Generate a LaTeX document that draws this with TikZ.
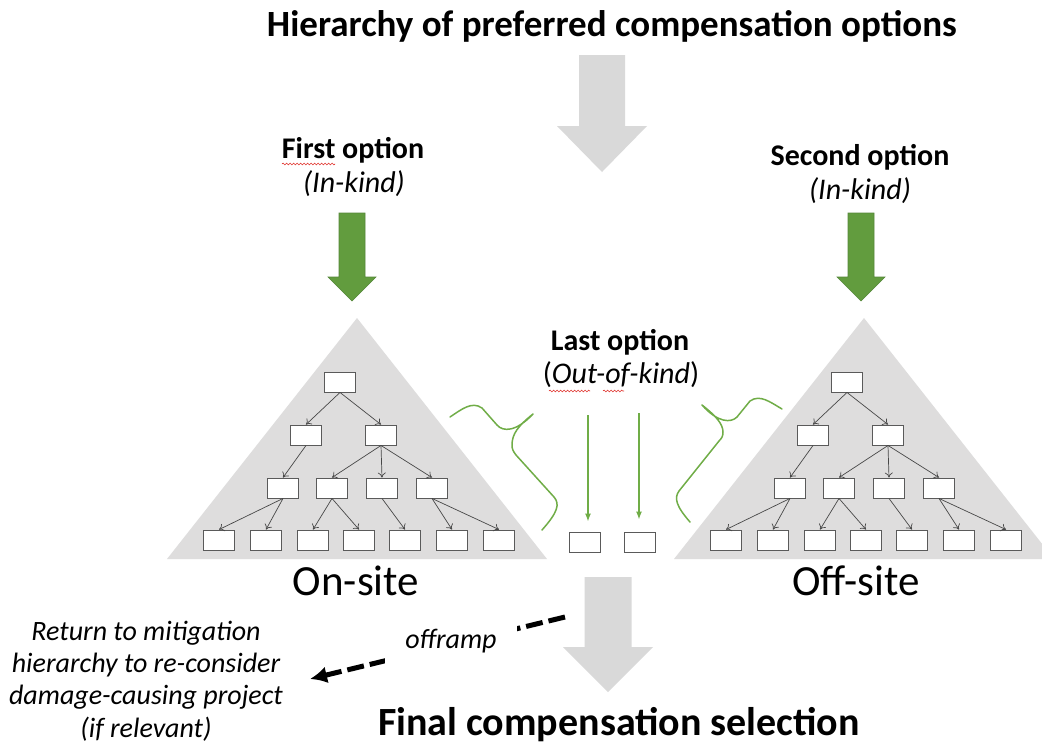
\documentclass[tikz,border=0pt]{standalone}
\usepackage{fontspec}
\setmainfont{Carlito}
\usetikzlibrary{arrows.meta,decorations.pathmorphing}

\definecolor{paleGray}{HTML}{D9D9D9}
\definecolor{triGray}{HTML}{DEDDDD}
\definecolor{leafGreen}{HTML}{629C3E}
\definecolor{leafEdge}{HTML}{55873A}
\definecolor{braceGreen}{HTML}{70AD47}
\definecolor{boxEdge}{HTML}{5A5A5A}
\definecolor{edgeGray}{HTML}{474747}
\definecolor{spellRed}{HTML}{E0302A}

\tikzset{
  leaf/.style={draw=boxEdge, fill=white, line width=0.9pt,
    minimum width=31pt, minimum height=20pt, inner sep=0pt},
  treeedge/.style={draw=edgeGray, line width=0.7pt, -{To[length=5pt,width=8pt]}},
  brace/.style={draw=braceGreen, line width=1.5pt, line join=round, line cap=round},
  thingreen/.style={draw=braceGreen, line width=1.4pt, -{Latex[length=8pt,width=6pt]}},
  label/.style={inner sep=0pt, anchor=base},
  titletext/.style={label, font=\fontsize{37}{44}\selectfont\bfseries},
  opttext/.style={label, font=\fontsize{30}{36}\selectfont\bfseries},
  kindtext/.style={label, font=\fontsize{30}{36}\selectfont},
  sitetext/.style={label, font=\fontsize{43}{50}\selectfont},
  finaltext/.style={label, font=\fontsize{40}{48}\selectfont\bfseries},
  notetext/.style={label, align=center, font=\fontsize{28}{32.3}\selectfont\itshape},
  offramp/.style={draw=black, line width=5pt, dash pattern=on 17pt off 6pt,
    -{Latex[length=17pt,width=17pt]}},
  squiggle/.style={draw=spellRed, line width=0.6pt, decorate,
    decoration={snake, segment length=3.5pt, amplitude=0.9pt}}
}

% block arrow pointing down: style, centre x, top y, shaft half width,
% y where the head starts, head half width, tip y
\newcommand{\blockarrow}[7]{%
  \path[#1] ({#2-#4},#3) -- ({#2+#4},#3) -- ({#2+#4},#5) -- ({#2+#6},#5)
    -- (#2,#7) -- ({#2-#6},#5) -- ({#2-#4},#5) -- cycle;}

% grey triangle holding a tree of options; #1 name prefix, #2 horizontal offset
\newcommand{\optiontree}[2]{%
  \begin{scope}[xshift=#2]
    \fill[triGray] (357,318) -- (547,559) -- (167,559) -- cycle;
    \node[leaf] (#1r) at (340,382) {};
    \node[leaf] (#1a) at (306,435) {};
    \node[leaf] (#1b) at (381,435) {};
    \node[leaf] (#1c) at (283,488) {};
    \node[leaf] (#1d) at (332,488) {};
    \node[leaf] (#1e) at (382,488) {};
    \node[leaf] (#1f) at (432,488) {};
    \node[leaf] (#1g) at (219,540) {};
    \node[leaf] (#1h) at (266,540) {};
    \node[leaf] (#1i) at (313,540) {};
    \node[leaf] (#1j) at (359,540) {};
    \node[leaf] (#1k) at (405,540) {};
    \node[leaf] (#1l) at (452,540) {};
    \node[leaf] (#1m) at (499,540) {};
    \foreach \p/\c in {r/a,r/b,a/c,b/d,b/e,b/f,c/g,c/h,d/i,d/j,e/k,f/l,f/m}
      \draw[treeedge] (#1\p.south) -- (#1\c.north);
  \end{scope}}

\begin{document}
\begin{tikzpicture}[x=1pt, y=-1pt]
  \useasboundingbox (0,0) rectangle (1042,748);
  \clip (0,0) rectangle (1042,748);
  \fill[white] (0,0) rectangle (1042,748);

  % heading and the big grey arrow below it
  \node[titletext] (title) at (612,36) {Hierarchy of preferred compensation options};
  \blockarrow{fill=paleGray}{602}{55}{23}{126}{45}{172}

  % first and second options
  \node[opttext] (first) at (353,158) {First option};
  \node[kindtext] (firstkind) at (354,192) {\itshape (In-kind)};
  \draw[squiggle] (282,164) -- (335,164);
  \blockarrow{fill=leafGreen,draw=leafEdge,line width=0.6pt}{352}{213}{13}{277}{24}{301}

  \node[opttext] (second) at (860,165) {Second option};
  \node[kindtext] (secondkind) at (860,199) {\itshape (In-kind)};
  \blockarrow{fill=leafGreen,draw=leafEdge,line width=0.6pt}{861}{213}{13}{277}{24}{301}

  % on-site and off-site trees
  \optiontree{L}{0pt}
  \optiontree{R}{507pt}
  \node[sitetext] (onsite) at (356,595) {On-site};
  \node[sitetext] (offsite) at (856,595) {Off-site};

  % last option in the middle
  \node[opttext] (last) at (620,350) {Last option};
  \node[kindtext] (lastkind) at (621,383) {(\textit{Out-of-kind})};
  \draw[squiggle] (549,391) -- (590,391);
  \draw[squiggle] (603,391) -- (624,391);

  \node[leaf] (m1) at (585,542) {};
  \node[leaf] (m2) at (640,542) {};
  \coordinate (g1) at (588,415);
  \coordinate (g2) at (639,413);
  \draw[thingreen, shorten >=10pt] (g1) -- (g1 |- m1.north);
  \draw[thingreen, shorten >=12pt] (g2) -- (g2 |- m2.north);

  % braces
  \draw[brace] (450,417) .. controls (462,409) and (472,401) .. (482,408)
    -- (497,425) .. controls (503,432) and (516,432) .. (533,414)
    .. controls (518,426) and (512,434) .. (512,445)
    .. controls (512,449) and (513,451) .. (516,455)
    -- (554,497) .. controls (560,504) and (558,512) .. (542,530);
  \draw[brace] (782,409) .. controls (770,402) and (760,394) .. (750,401)
    -- (737,417) .. controls (731,423) and (718,423) .. (702,405)
    .. controls (716,416) and (723,424) .. (723,432)
    .. controls (723,436) and (722,438) .. (719,441)
    -- (679,491) .. controls (674,498) and (676,506) .. (690,522);

  % final selection
  \blockarrow{fill=paleGray}{608}{577}{23.5}{647}{45}{692}
  \node[finaltext] (final) at (619,735) {Final compensation selection};

  % off-ramp back to the mitigation hierarchy
  \node[notetext] (ret) at (146,737) {Return to mitigation\\hierarchy to re-consider\\damage-causing project\\(if relevant)};
  \coordinate (rampstart) at (565,617);
  \coordinate (rampend) at (310,679);
  \draw[offramp] (rampstart) -- (rampend);
  \node[label, fill=white, inner xsep=20pt, inner ysep=11pt,
    font=\fontsize{28}{32}\selectfont\itshape] (ramp) at (451,648) {offramp};
\end{tikzpicture}
\end{document}
